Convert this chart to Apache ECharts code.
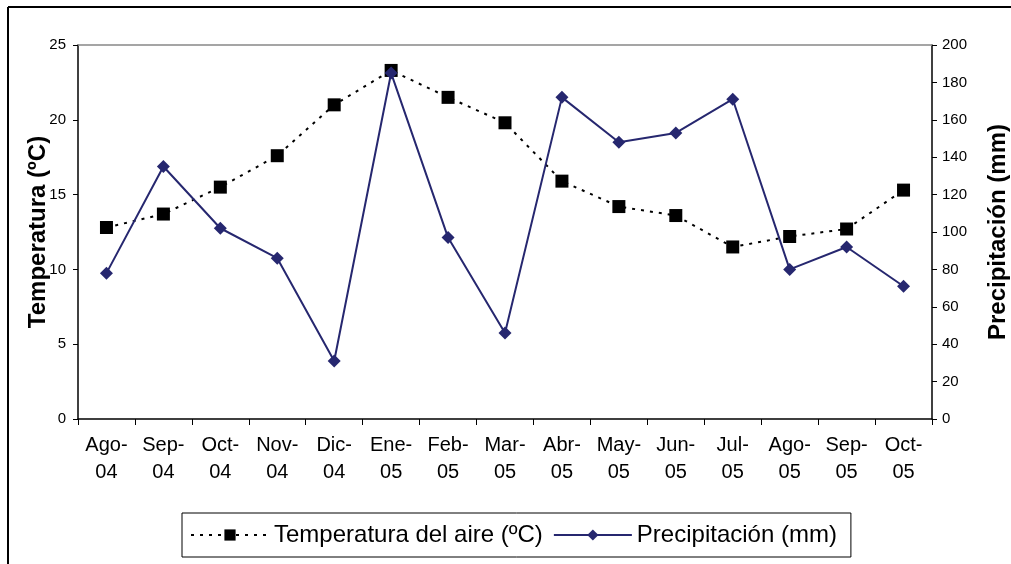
<!DOCTYPE html>
<html><head><meta charset="utf-8">
<script src="https://cdn.jsdelivr.net/npm/echarts@6/dist/echarts.min.js"></script>
<style>html,body{margin:0;padding:0;background:#fff}#c{width:1011px;height:564px}</style>
</head><body><div id="c"></div>
<script>
const categories = ['Ago-\n04','Sep-\n04','Oct-\n04','Nov-\n04','Dic-\n04','Ene-\n05','Feb-\n05','Mar-\n05','Abr-\n05','May-\n05','Jun-\n05','Jul-\n05','Ago-\n05','Sep-\n05','Oct-\n05'];
const temperatura = [12.8, 13.7, 15.5, 17.6, 21.0, 23.3, 21.5, 19.8, 15.9, 14.2, 13.6, 11.5, 12.2, 12.7, 15.3];
const precipitacion = [78, 135, 102, 86, 31, 185, 97, 46, 172, 148, 153, 171, 80, 92, 71];
const tempTicks = {min: 0, max: 25, interval: 5};
const precTicks = {min: 0, max: 200, interval: 20};

const font = 'Liberation Sans, Arial, sans-serif';
const chart = echarts.init(document.getElementById('c'), null, {renderer: 'canvas'});
chart.setOption({
  animation: false,
  backgroundColor: '#fff',
  grid: {left: 78, right: 79, top: 45, bottom: 145, containLabel: false, outerBoundsMode: 'none'},
  graphic: [
    {type: 'line', shape: {x1: 8, y1: 7, x2: 1011, y2: 7}, style: {stroke: '#000', lineWidth: 2}},
    {type: 'line', shape: {x1: 8, y1: 7, x2: 8, y2: 564}, style: {stroke: '#000', lineWidth: 2}}
  ],
  legend: {
    left: 182, top: 513,
    itemWidth: 78, itemHeight: 14, itemGap: 10,
    borderColor: '#000', borderWidth: 1, padding: [10, 14, 10, 8],
    textStyle: {fontFamily: font, fontSize: 24, color: '#000'},
    data: ['Temperatura del aire (ºC)', 'Precipitación (mm)']
  },
  xAxis: [{
    type: 'category', data: categories, position: 'bottom',
    axisLine: {onZero: false, lineStyle: {color: '#000', width: 1.5}},
    axisTick: {show: true, alignWithLabel: false, length: 6, lineStyle: {color: '#000'}},
    axisLabel: {fontFamily: font, fontSize: 20, color: '#000', lineHeight: 27, margin: 13, interval: 0}
  }, {
    type: 'category', data: categories, position: 'top',
    axisLine: {show: true, onZero: false, lineStyle: {color: '#888', width: 1.5}},
    axisTick: {show: false}, axisLabel: {show: false}
  }],
  yAxis: [{
    type: 'value', min: tempTicks.min, max: tempTicks.max, interval: tempTicks.interval,
    name: 'Temperatura (ºC)', nameLocation: 'middle', nameGap: 28, nameRotate: 90, nameMoveOverlap: false,
    nameTextStyle: {fontFamily: font, fontSize: 24, fontWeight: 'bold', color: '#000'},
    axisLine: {show: true, onZero: false, lineStyle: {color: '#000', width: 1.5}},
    axisTick: {show: true, length: 5, lineStyle: {color: '#000'}},
    axisLabel: {fontFamily: font, fontSize: 15, color: '#000', margin: 12},
    splitLine: {show: false}
  }, {
    type: 'value', min: precTicks.min, max: precTicks.max, interval: precTicks.interval,
    name: 'Precipitación (mm)', nameLocation: 'middle', nameGap: 54, nameRotate: 90, nameMoveOverlap: false,
    nameTextStyle: {fontFamily: font, fontSize: 24, fontWeight: 'bold', color: '#000'},
    axisLine: {show: true, onZero: false, lineStyle: {color: '#000', width: 1.5}},
    axisTick: {show: true, length: 5, inside: false, lineStyle: {color: '#000'}},
    axisLabel: {fontFamily: font, fontSize: 15, color: '#000', margin: 10},
    splitLine: {show: false}
  }],
  series: [{
    name: 'Temperatura del aire (ºC)', type: 'line', yAxisIndex: 0, data: temperatura,
    symbol: 'rect', symbolSize: 13,
    itemStyle: {color: '#000'},
    lineStyle: {color: '#000', width: 2, type: [3, 6]},
    z: 2
  }, {
    name: 'Precipitación (mm)', type: 'line', yAxisIndex: 1, data: precipitacion,
    symbol: 'diamond', symbolSize: [13, 13],
    itemStyle: {color: '#26276f'},
    lineStyle: {color: '#26276f', width: 2},
    z: 3
  }]
});
</script></body></html>
